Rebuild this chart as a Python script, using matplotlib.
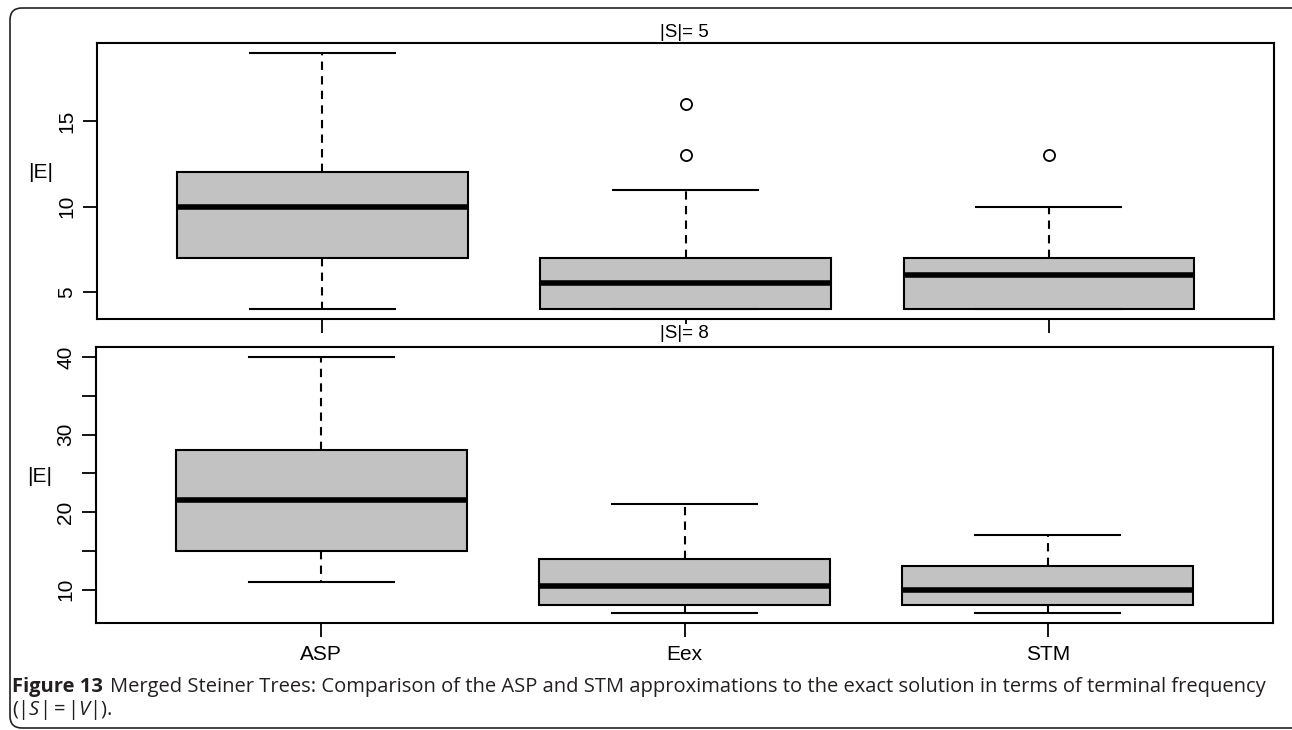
import matplotlib
matplotlib.use('Agg')
import matplotlib.pyplot as plt
from matplotlib.patches import FancyBboxPatch
from matplotlib import font_manager

# box statistics
groups = ['ASP', 'Eex', 'STM']

s5_whislo = [4, 4, 4]
s5_q1 = [7, 4, 4]
s5_med = [10, 5.5, 6]
s5_q3 = [12, 7, 7]
s5_whishi = [19, 11, 10]
s5_fliers = [[], [13, 16], [13]]

s8_whislo = [11, 7, 7]
s8_q1 = [15, 8, 8]
s8_med = [21.5, 10.5, 10]
s8_q3 = [28, 14, 13]
s8_whishi = [40, 21, 17]
s8_fliers = [[], [], []]

names = {f.name for f in font_manager.fontManager.ttflist}
narrow = 'Liberation Sans Narrow' if 'Liberation Sans Narrow' in names else 'Liberation Sans'

plt.rcParams['mathtext.fontset'] = 'custom'
plt.rcParams['mathtext.it'] = 'Open Sans:italic'
plt.rcParams['mathtext.rm'] = 'Open Sans'


def make_stats(lo, q1, med, q3, hi, fl):
    out = []
    for i in range(len(groups)):
        out.append({'whislo': lo[i], 'q1': q1[i], 'med': med[i], 'q3': q3[i],
                    'whishi': hi[i], 'fliers': fl[i], 'label': groups[i]})
    return out


fig = plt.figure(figsize=(12.92, 7.3), dpi=100)

# rounded frame around the figure + caption
frame = FancyBboxPatch((0.10, 0.02), 12.95, 7.20, boxstyle='round,pad=0,rounding_size=0.12',
                       transform=fig.dpi_scale_trans, fill=False, lw=1.2, ec='#222222')
fig.patches.append(frame)

ax1 = fig.add_axes([0.0751, 0.5630, 0.9110, 0.3781])
ax2 = fig.add_axes([0.0743, 0.1466, 0.9110, 0.3781])

panels = [
    (ax1, make_stats(s5_whislo, s5_q1, s5_med, s5_q3, s5_whishi, s5_fliers), '|S|= 5', 0.9555),
    (ax2, make_stats(s8_whislo, s8_q1, s8_med, s8_q3, s8_whishi, s8_fliers), '|S|= 8', 0.5435),
]

for ax, stats, strip, sy in panels:
    ax.bxp(stats, positions=[1, 2, 3], widths=0.8, capwidths=0.4, patch_artist=True,
           boxprops=dict(facecolor='#c2c2c2', edgecolor='black', lw=1.5),
           medianprops=dict(color='black', lw=4, solid_capstyle='butt'),
           whiskerprops=dict(color='black', lw=1.5, linestyle=(0, (4, 3))),
           capprops=dict(color='black', lw=1.5),
           flierprops=dict(marker='o', markersize=8, markerfacecolor='none',
                           markeredgecolor='black', markeredgewidth=1.3))
    ax.set_xlim(0.38, 3.62)
    for sp in ax.spines.values():
        sp.set_linewidth(1.5)
    ax.tick_params(direction='out', length=10, width=1.3, pad=5, labelsize=15)
    ax.text(-0.048, 0.53, '|E|', transform=ax.transAxes, ha='center', va='center',
            fontsize=15, family='Liberation Sans')
    fig.text(0.530, sy, strip, ha='center', va='center', fontsize=13.5, family='Liberation Sans',
             zorder=10, bbox=dict(facecolor='white', edgecolor='none', pad=0.3))

ax1.set_ylim(3.4, 19.6)
ax1.set_yticks([5, 10, 15])
ax1.set_yticklabels(['5', '10', '15'], rotation=90, va='center', family=narrow)
ax1.set_xticks([1, 2, 3])
ax1.set_xticklabels([])

ax2.set_ylim(5.68, 41.32)
ax2.set_yticks([10, 15, 20, 25, 30, 35, 40])
ax2.set_yticklabels(['10', '', '20', '', '30', '', '40'], rotation=90, va='center', family=narrow)
ax2.set_xticks([1, 2, 3])
ax2.set_xticklabels(groups, family=narrow, fontsize=15)
ax2.tick_params(axis='x', pad=6)

cap_color = '#231f20'
cap_size = 14.5
fig.text(0.0095, 0.052, 'Figure 13', ha='left', va='baseline', fontsize=cap_size,
         fontweight='bold', family='Open Sans', color=cap_color)
fig.text(0.085, 0.052, 'Merged Steiner Trees: Comparison of the ASP and STM approximations '
         'to the exact solution in terms of terminal frequency',
         ha='left', va='baseline', fontsize=cap_size, family='Open Sans', color=cap_color)
fig.text(0.0095, 0.020, r'(|$S$|$\,$=$\,$|$V$|).', ha='left', va='baseline',
         fontsize=cap_size, family='Open Sans', color=cap_color)

fig.savefig('out.png', dpi=100)
